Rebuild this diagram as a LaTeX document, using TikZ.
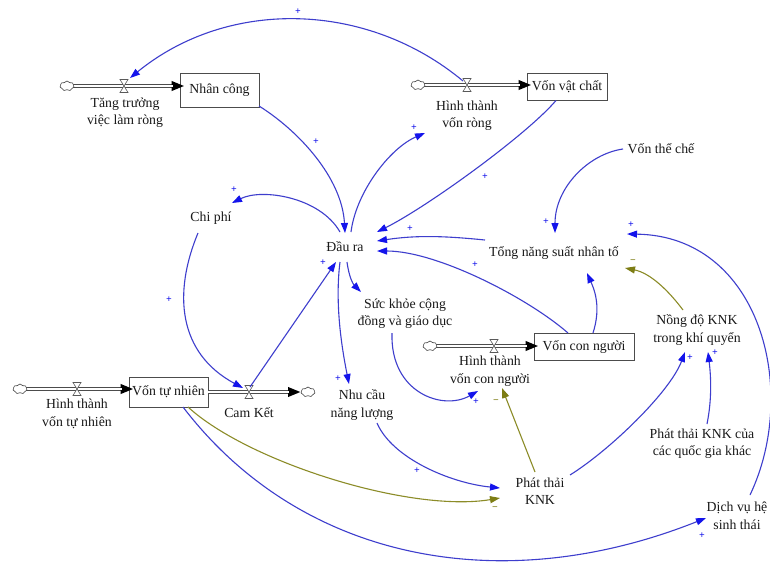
\documentclass[tikz,border=0pt]{standalone}
\usepackage{fontspec}
\setmainfont{Liberation Serif}
\usetikzlibrary{arrows.meta,shapes.symbols,calc}
\definecolor{linkblue}{RGB}{62,62,205}
\definecolor{headblue}{RGB}{20,20,235}
\definecolor{olivel}{RGB}{140,140,40}
\definecolor{oliveh}{RGB}{125,125,20}
\definecolor{ink}{RGB}{25,25,25}
\newcommand\lblsize{\fontsize{13.8}{17.5}\selectfont}
\newcommand\sgnsize{\fontsize{10}{10}\selectfont\bfseries}

\begin{document}
\begin{tikzpicture}[x=1pt,y=-1pt,
  stock/.style={draw=black!70, fill=white, line width=0.7pt, inner sep=0pt, font=\lblsize, text=ink},
  aux/.style={align=center, inner sep=0pt, font=\lblsize, text=ink},
  link/.style={draw=linkblue, line width=1.1pt, -{Triangle[length=10pt,width=7pt,color=headblue]}},
  neglink/.style={draw=olivel, line width=1.1pt, -{Triangle[length=10pt,width=7pt,color=oliveh]}},
  plus/.style={font=\sgnsize, text=headblue, inner sep=0pt},
  minus/.style={font=\sgnsize, text=oliveh, inner sep=0pt},
  pipeout/.style={draw=black!70, line width=4.6pt, -{Triangle[length=13pt,width=9pt,color=black]}},
  pipein/.style={draw=white, line width=2.2pt, shorten >=12pt},
  sink/.style={cloud, cloud puffs=7, cloud puff arc=120, aspect=1.3, draw=black!75, fill=white,
    line width=0.6pt, minimum width=14pt, minimum height=10pt, inner sep=0pt},
  valve/.pic={\draw[black!65, fill=white, line width=0.6pt]
    (-4,-6.5) -- (4,-6.5) -- (-4,6.5) -- (4,6.5) -- cycle;}
]
\fill[white] (0,0) rectangle (770,562);
\useasboundingbox (0,0) rectangle (770,562);

% stocks
\node[stock, minimum width=79pt, minimum height=34pt] (nhancong) at (219.5,90) {Nhân công};
\node[stock, minimum width=80pt, minimum height=27pt] (vonvc) at (567,86.5) {Vốn vật chất};
\node[stock, minimum width=79pt, minimum height=30pt] (vontn) at (168.5,392) {Vốn tự nhiên};
\node[stock, minimum width=100pt, minimum height=27pt] (voncn) at (584,346.5) {Vốn con người};

% sources and sinks
\coordinate (k1) at (67,86);
\coordinate (k2) at (418,85);
\coordinate (k3) at (20,389);
\coordinate (k4) at (308,392);
\coordinate (k5) at (430,346);

% valves
\coordinate (v1) at (124,86);
\coordinate (v2) at (467,85);
\coordinate (v3) at (77,389);
\coordinate (v4) at (249,392);
\coordinate (v5) at (494,346);

% flow pipes
\draw[pipeout] ([xshift=5]k1) -- ([xshift=5]k1 -| nhancong.west);
\draw[pipein]  ([xshift=5]k1) -- ([xshift=5]k1 -| nhancong.west);
\draw[pipeout] ([xshift=5]k2) -- ([xshift=5]k2 -| vonvc.west);
\draw[pipein]  ([xshift=5]k2) -- ([xshift=5]k2 -| vonvc.west);
\draw[pipeout] ([xshift=5]k3) -- ([xshift=5]k3 -| vontn.west);
\draw[pipein]  ([xshift=5]k3) -- ([xshift=5]k3 -| vontn.west);
\draw[pipeout] (vontn.east |- k4) -- ([xshift=-7]k4);
\draw[pipein]  (vontn.east |- k4) -- ([xshift=-7]k4);
\draw[pipeout] ([xshift=5]k5) -- ([xshift=5]k5 -| voncn.west);
\draw[pipein]  ([xshift=5]k5) -- ([xshift=5]k5 -| voncn.west);

\node[sink] (c1) at (k1) {};
\node[sink] (c2) at (k2) {};
\node[sink] (c3) at (k3) {};
\node[sink] (c4) at (k4) {};
\node[sink] (c5) at (k5) {};

\pic at (v1) {valve};
\pic at (v2) {valve};
\pic at (v3) {valve};
\pic at (v4) {valve};
\pic at (v5) {valve};

% flow names
\node[aux] (f1) at (125,112.5) {Tăng trưởng\\việc làm ròng};
\node[aux] (f2) at (467,115.5) {Hình thành\\vốn ròng};
\node[aux] (f3) at (77,414) {Hình thành\\vốn tự nhiên};
\node[aux] (f4) at (249,413) {Cam Kết};
\node[aux] (f5) at (490,371) {Hình thành\\vốn con người};

% auxiliary variables
\node[aux] (chiphi) at (211,218) {Chi phí};
\node[aux] (daura) at (345,247) {Đầu ra};
\node[aux] (vontc) at (661,149) {Vốn thể chế};
\node[aux] (tnsnt) at (554,253) {Tổng năng suất nhân tố};
\node[aux] (suckhoe) at (405,313.5) {Sức khỏe cộng\\đồng và giáo dục};
\node[aux] (nhucau) at (362,405) {Nhu cầu\\năng lượng};
\node[aux] (phatthai) at (540,491) {Phát thải\\KNK};
\node[aux] (nongdo) at (697,330) {Nồng độ KNK\\trong khí quyển};
\node[aux] (ptqg) at (702,443.5) {Phát thải KNK của\\các quốc gia khác};
\node[aux] (dichvu) at (737,516) {Dịch vụ hệ\\sinh thái};

% causal links
\draw[link] ([shift={(-4,-4)}]v2) .. controls +(-96,-80) and +(98,-80) .. ([shift={(6,-8)}]v1);
\draw[link] ([shift={(39.5,16)}]nhancong.center) .. controls +(40,25) and +(-3,-55) .. ([shift={(0,-14)}]daura.center);
\draw[link] ([shift={(6,-15)}]daura.center) .. controls +(5,-40) and +(-35,15) .. ([shift={(-42,17.5)}]f2.center);
\draw[link] ([shift={(-11,14)}]vonvc.center) .. controls +(-30,35) and +(50,-25) .. ([shift={(32,-15)}]daura.center);
\draw[link] ([shift={(-5,-15)}]daura.center) .. controls +(-20,-35) and +(30,-15) .. ([shift={(21,-15)}]chiphi.center);
\draw[link] ([shift={(-13,15)}]chiphi.center) .. controls +(-25,60) and +(-65,-35) .. ([shift={(-6,-4)}]v4);
\draw[link] ([shift={(1,-5)}]v4) -- ([shift={(-9,15)}]daura.center);
\draw[link] ([shift={(-69,-13)}]tnsnt.center) .. controls +(-40,-4) and +(40,-6) .. ([shift={(32,-6)}]daura.center);
\draw[link] ([shift={(-16,-13.5)}]voncn.center) .. controls +(-40,-35) and +(60,0) .. ([shift={(32,4)}]daura.center);
\draw[link] ([shift={(9,-13.5)}]voncn.center) .. controls +(8,-25) and +(8,18) .. ([shift={(33,20)}]tnsnt.center);
\draw[link] ([shift={(-38,0)}]vontc.center) .. controls +(-35,5) and +(0,-45) .. ([shift={(1,-20)}]tnsnt.center);
\draw[link] ([shift={(13,-21)}]dichvu.center) .. controls +(50,-105) and +(133,2) .. ([shift={(73,-19)}]tnsnt.center);
\draw[neglink] ([shift={(-14,-20)}]nongdo.center) .. controls +(-15,-20) and +(25,5) .. ([shift={(71,15)}]tnsnt.center);
\draw[link] ([shift={(2,15)}]daura.center) .. controls +(2,15) and +(-8,-8) .. ([shift={(-44,-21.5)}]suckhoe.center);
\draw[link] ([shift={(-5,15)}]daura.center) .. controls +(-5,40) and +(-8,-40) .. ([shift={(-13,-21)}]nhucau.center);
\draw[link] ([shift={(-13,19.5)}]suckhoe.center) .. controls +(-2,60) and +(-35,20) .. ([shift={(-12,20)}]f5.center);
\draw[neglink] ([shift={(-5,-19)}]phatthai.center) -- ([shift={(12,17)}]f5.center);
\draw[link] ([shift={(15,18)}]nhucau.center) .. controls +(15,35) and +(-50,-5) .. ([shift={(-40,-3)}]phatthai.center);
\draw[neglink] ([shift={(19.5,15)}]vontn.center) .. controls +(60,55) and +(-90,15) .. ([shift={(-40,7)}]phatthai.center);
\draw[link] ([shift={(14.5,15)}]vontn.center) .. controls +(117,153) and +(-206,82) .. ([shift={(-31,2)}]dichvu.center);
\draw[link] ([shift={(30,-16)}]phatthai.center) .. controls +(40,-25) and +(-15,40) .. ([shift={(-12,22)}]nongdo.center);
\draw[link] ([shift={(5,-19.5)}]ptqg.center) .. controls +(5,-25) and +(3,25) .. ([shift={(11,22)}]nongdo.center);

% link polarities
\node[plus] (pa) at (298,12) {+};
\node[plus] (pb) at (316,142) {+};
\node[plus] (pc) at (414,128) {+};
\node[plus] (pd) at (485,177) {+};
\node[plus] (pe) at (234,190) {+};
\node[plus] (pf) at (169,300) {+};
\node[plus] (pg) at (323,263) {+};
\node[plus] (ph) at (410,229) {+};
\node[plus] (pi) at (475,265) {+};
\node[plus] (pj) at (546,222) {+};
\node[plus] (pk) at (631,225) {+};
\node[minus] (ma) at (633,262) {−};
\node[plus] (pl) at (338,379) {+};
\node[plus] (pm) at (476,402) {+};
\node[minus] (mb) at (496,402) {−};
\node[plus] (pn) at (417,471) {+};
\node[minus] (mc) at (495,509) {−};
\node[plus] (po) at (702,536) {+};
\node[plus] (pp) at (690,358) {+};
\node[plus] (pq) at (715,353) {+};
\end{tikzpicture}
\end{document}
